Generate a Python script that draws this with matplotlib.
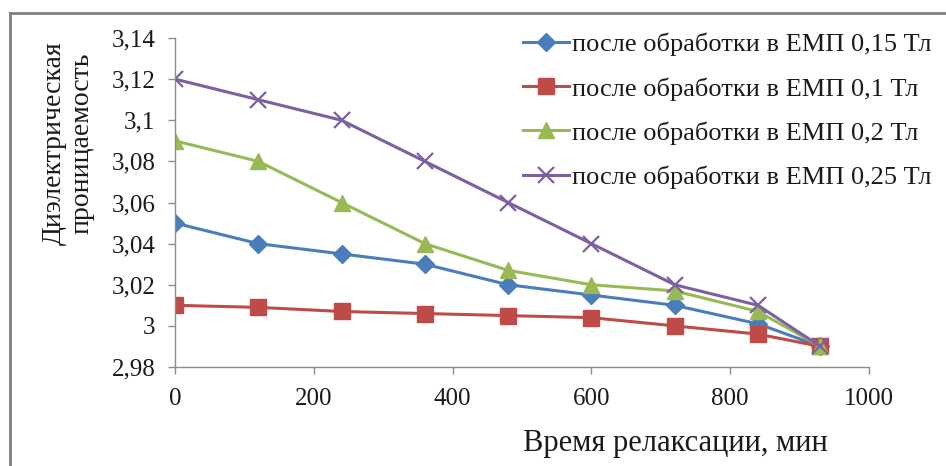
import matplotlib
matplotlib.use("Agg")
import matplotlib.pyplot as plt
from matplotlib.lines import Line2D

plt.rcParams['font.family'] = ['Liberation Serif', 'DejaVu Serif']

time_min = [0, 120, 240, 360, 480, 600, 720, 840, 930]
s015 = [3.05, 3.04, 3.035, 3.03, 3.02, 3.015, 3.01, 3.001, 2.99]
s010 = [3.01, 3.009, 3.007, 3.006, 3.005, 3.004, 3.0, 2.996, 2.99]
s020 = [3.09, 3.08, 3.06, 3.04, 3.027, 3.02, 3.017, 3.007, 2.99]
s025 = [3.12, 3.11, 3.10, 3.08, 3.06, 3.04, 3.02, 3.01, 2.99]

labels = ['после обработки в ЕМП 0,15 Тл',
          'после обработки в ЕМП 0,1 Тл',
          'после обработки в ЕМП 0,2 Тл',
          'после обработки в ЕМП 0,25 Тл']

yticks = [2.98, 3.0, 3.02, 3.04, 3.06, 3.08, 3.10, 3.12, 3.14]
yticklabels = ['2,98', '3', '3,02', '3,04', '3,06', '3,08', '3,1', '3,12', '3,14']
xticks = [0, 200, 400, 600, 800, 1000]

W, H = 946, 466
fig = plt.figure(figsize=(W / 100, H / 100), dpi=100)
fig.patch.set_facecolor('white')

ax = fig.add_axes([175 / W, 1 - 367 / H, (869 - 175) / W, (367 - 38) / H])

txt = '#1a1a1a'
grey = '#8c8c8c'

styles = [
    (s015, '#4a7ebb', 'D', 9.5, labels[0]),
    (s010, '#be4b48', 's', 11, labels[1]),
    (s020, '#98b954', '^', 11, labels[2]),
    (s025, '#7d60a0', 'x', 11, labels[3]),
]
handles = []
for data, col, mk, ms, lab in styles:
    kw = dict(color=col, lw=2.2, marker=mk, markersize=ms, label=lab)
    if mk == 'x':
        kw.update(markeredgewidth=1.6)
    else:
        kw.update(markeredgecolor=col, markerfacecolor=col)
    h, = ax.plot(time_min, data, **kw)
    handles.append(h)

ax.set_xlim(0, 1000)
ax.set_ylim(2.98, 3.14)
ax.set_xticks(xticks)
ax.set_xticklabels([str(v) for v in xticks])
ax.set_yticks(yticks)
ax.set_yticklabels(yticklabels)
for s in ['top', 'right']:
    ax.spines[s].set_visible(False)
for s in ['left', 'bottom']:
    ax.spines[s].set_color(grey)
    ax.spines[s].set_linewidth(1.0)
ax.tick_params(axis='both', direction='out', length=5, width=1.0, color=grey,
               labelsize=18, labelcolor=txt)
ax.tick_params(axis='y', pad=9)
ax.tick_params(axis='x', pad=10)

fig.text(68 / W, 1 - 143 / H, 'Диэлектрическая\nпроницаемость', rotation=90,
         ha='center', va='center', fontsize=20, color=txt, linespacing=1.15)
fig.text(675 / W, 1 - 443 / H, 'Время релаксации, мин', ha='center', va='center',
         fontsize=22, color=txt)

leg = fig.legend(handles=handles, loc='upper left',
                 bbox_to_anchor=(523 / W, 1 - 33 / H), frameon=False,
                 fontsize=19, handlelength=1.75, handletextpad=0.1,
                 labelspacing=0.78, borderpad=0, borderaxespad=0)
for t in leg.get_texts():
    t.set_color(txt)

# document frame
fig.add_artist(Line2D([10 / W, 10 / W], [0, 1 - 13 / H], transform=fig.transFigure,
                      color='#7f7f7f', lw=2))
fig.add_artist(Line2D([10 / W, 1], [1 - 13 / H, 1 - 13 / H], transform=fig.transFigure,
                      color='#7f7f7f', lw=2))

fig.savefig('out.png', dpi=100)
